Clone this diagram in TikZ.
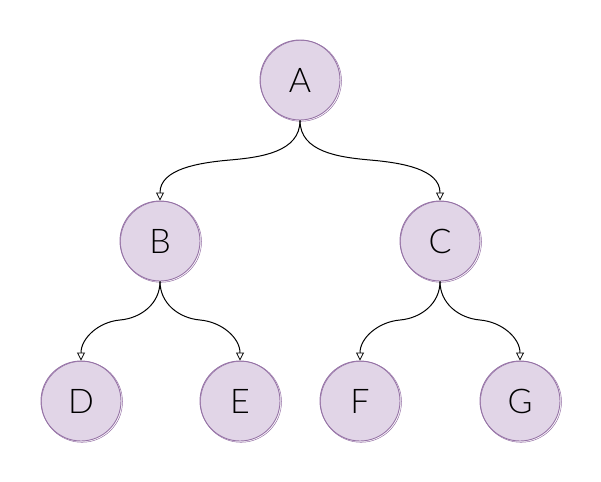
\documentclass[tikz,border=0pt]{standalone}
\usepackage{fontspec}
\setmainfont{Lato Light}
\usetikzlibrary{arrows.meta}
\definecolor{nodefill}{HTML}{E1D5E7}
\definecolor{nodeline}{HTML}{9673A6}
\tikzset{
  treenode/.style={circle, draw=nodeline, fill=nodefill, line width=0.9pt, minimum size=80pt, inner sep=0pt, font=\fontsize{34}{40}\selectfont},
  sketchring/.style={draw=nodeline, line width=0.5pt},
  edge/.style={draw=black, line width=1pt, -{Triangle[open, length=8pt, width=8pt, line width=0.8pt]}}
}
\begin{document}
\begin{tikzpicture}[x=1pt, y=-1pt]
\useasboundingbox (0,0) rectangle (601,481);
\node[treenode] (A) at (300,80) {A};
\node[treenode] (B) at (160,241) {B};
\node[treenode] (C) at (440,241) {C};
\node[treenode] (D) at (81,401) {D};
\node[treenode] (E) at (240,401) {E};
\node[treenode] (F) at (360,401) {F};
\node[treenode] (G) at (520,401) {G};
\foreach \n in {A,B,C,D,E,F,G}{
  \draw[sketchring] ([shift={(1pt,-0.8pt)}]\n.center) circle[radius=40.5pt];
}
\draw[edge] (A.south) to[out=-90,in=5] (230,160) to[out=185,in=90] (B.north);
\draw[edge] (A.south) to[out=-90,in=175] (370,160) to[out=-5,in=90] (C.north);
\draw[edge] (B.south) to[out=-90,in=5] (120,320) to[out=185,in=90] (D.north);
\draw[edge] (B.south) to[out=-90,in=175] (200,320) to[out=-5,in=90] (E.north);
\draw[edge] (C.south) to[out=-90,in=5] (400,320) to[out=185,in=90] (F.north);
\draw[edge] (C.south) to[out=-90,in=175] (480,320) to[out=-5,in=90] (G.north);
\end{tikzpicture}
\end{document}
